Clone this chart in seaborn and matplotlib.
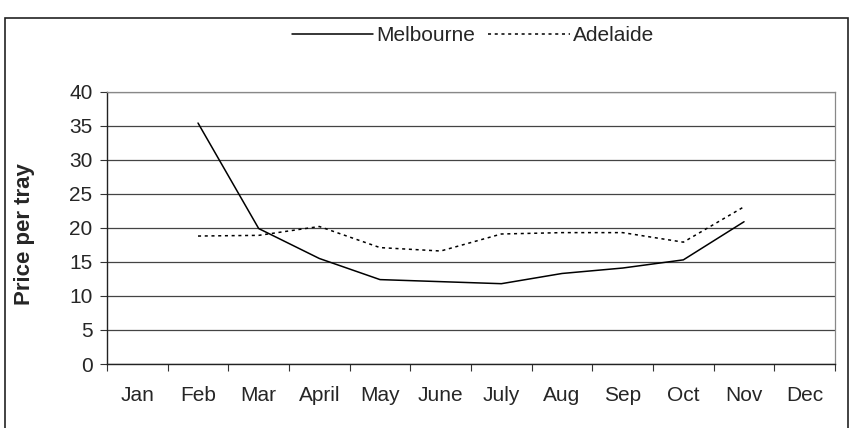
import numpy as np
import pandas as pd
import matplotlib
matplotlib.use("Agg")
import matplotlib.pyplot as plt
from matplotlib.patches import Rectangle
from matplotlib.lines import Line2D
import seaborn as sns

months = ["Jan", "Feb", "Mar", "April", "May", "June", "July", "Aug", "Sep", "Oct", "Nov", "Dec"]
melbourne = [np.nan, 35.4, 19.9, 15.5, 12.4, 12.1, 11.8, 13.3, 14.1, 15.3, 20.9, np.nan]
adelaide = [np.nan, 18.8, 18.9, 20.2, 17.1, 16.6, 19.1, 19.3, 19.3, 17.9, 23.1, np.nan]
y_ticks = [0, 5, 10, 15, 20, 25, 30, 35, 40]

sns.set_theme(style="white")
plt.rcParams["font.family"] = ["Liberation Sans", "DejaVu Sans"]

FS = 15

df = pd.DataFrame({
    "month": list(range(len(months))) * 2,
    "price": melbourne + adelaide,
    "city": ["Melbourne"] * len(months) + ["Adelaide"] * len(months),
}).dropna()

fig = plt.figure(figsize=(8.5, 4.28), dpi=100)
ax = fig.add_axes([0.1259, 0.1495, 0.8565, 0.6362])

sns.lineplot(data=df, x="month", y="price", style="city",
             style_order=["Melbourne", "Adelaide"],
             dashes={"Melbourne": "", "Adelaide": (2, 2.4)},
             color="black", linewidth=1.1, legend=False, ax=ax, sort=False)

ax.set_xlim(-0.5, len(months) - 0.5)
ax.set_ylim(0, 40)
ax.set_yticks(y_ticks)
ax.set_xticks(range(len(months)))
ax.set_xticklabels(months, fontsize=FS)
ax.set_xticks(np.arange(-0.5, len(months)), minor=True)
ax.tick_params(axis="x", which="major", length=0, pad=16)
ax.tick_params(axis="x", which="minor", length=5, width=0.8, color="#333333", direction="out", bottom=True)
ax.tick_params(axis="y", length=5, width=0.8, color="#333333", left=True, pad=5.5)
for lab in ax.get_yticklabels():
    lab.set_fontsize(FS)

ax.yaxis.grid(True, color="#444444", linewidth=0.9)
ax.xaxis.grid(False)
ax.set_axisbelow(True)
ax.set_xlabel("")
ax.set_ylabel("Price per tray", fontsize=16, fontweight="bold")
ax.yaxis.set_label_coords(-0.099, 0.478)

for side in ["top", "right"]:
    ax.spines[side].set_color("#888888")
    ax.spines[side].set_linewidth(0.9)
for side in ["left", "bottom"]:
    ax.spines[side].set_color("#222222")
    ax.spines[side].set_linewidth(1.0)

handles = [Line2D([], [], color="black", linewidth=1.1),
           Line2D([], [], color="black", linewidth=1.1, linestyle=(0, (2, 2.4)))]
fig.legend(handles, ["Melbourne", "Adelaide"], loc="center", bbox_to_anchor=(0.5565, 0.916),
           ncol=2, frameon=False, fontsize=FS, handlelength=3.9, handletextpad=0.15,
           columnspacing=0.62)

fig.patches.append(Rectangle((5 / 850, -5 / 428), 843 / 850, 415 / 428,
                             transform=fig.transFigure, fill=False,
                             edgecolor="#222222", linewidth=1.2))

fig.savefig("out.png", dpi=100, facecolor="white")
